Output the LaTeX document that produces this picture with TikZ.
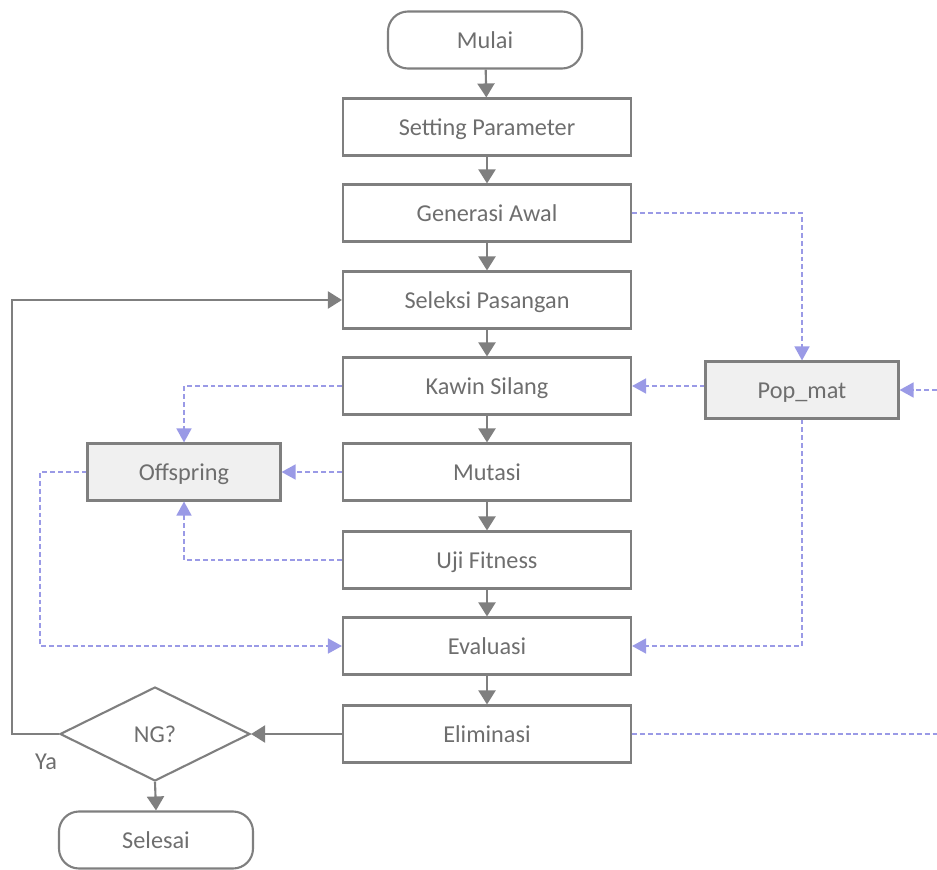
\documentclass[tikz,border=0pt]{standalone}
\usepackage{fontspec}
\setmainfont{Carlito}
\usepackage{tikz}
\usetikzlibrary{arrows.meta, shapes.geometric}

\definecolor{linegray}{HTML}{7F7F7F}
\definecolor{textgray}{HTML}{6E6E6E}
\definecolor{dashblue}{HTML}{9A9AE6}
\definecolor{boxfill}{HTML}{F0F0F0}

\tikzset{
  procbox/.style={draw=linegray, line width=1.2pt, minimum width=57.6mm,
    minimum height=11.4mm, text=textgray, font=\fontsize{13.8}{16}\selectfont,
    text height=2.2ex, text depth=0.2ex},
  sidebox/.style={procbox, fill=boxfill, minimum width=38.6mm},
  termbox/.style={procbox, rounded corners=4mm, minimum width=38.8mm},
  decide/.style={diamond, draw=linegray, line width=1.2pt, aspect=2,
    inner sep=0pt, minimum width=38mm, minimum height=18.8mm,
    text=textgray, font=\fontsize{13.8}{16}\selectfont},
  flow/.style={draw=linegray, line width=1.2pt,
    -{Triangle[length=2.8mm, width=3.4mm]}},
  dataflow/.style={draw=dashblue, line width=0.9pt,
    dash pattern=on 2.8pt off 1.7pt,
    -{Triangle[length=2.8mm, width=3mm]}},
}

\begin{document}
\begin{tikzpicture}[x=0.2mm, y=-0.2mm]
    \useasboundingbox (0,0) rectangle (937,869);

    % main column
    \node[termbox] (mulai) at (485,40) {Mulai};
    \node[procbox] (setting) at (487,127) {Setting Parameter};
    \node[procbox] (generasi) at (487,213) {Generasi Awal};
    \node[procbox] (seleksi) at (487,300) {Seleksi Pasangan};
    \node[procbox] (kawin) at (487,386) {Kawin Silang};
    \node[procbox] (mutasi) at (487,472) {Mutasi};
    \node[procbox] (uji) at (487,560) {Uji Fitness};
    \node[procbox] (evaluasi) at (487,646) {Evaluasi};
    \node[procbox] (eliminasi) at (487,734) {Eliminasi};

    % side boxes
    \node[sidebox] (offspring) at (184,472) {Offspring};
    \node[sidebox] (popmat) at (802,390) {Pop\_mat};
    \node[decide] (ng) at (155,734) {NG?};
    \node[termbox] (selesai) at (156,840) {Selesai};
    \node[text=textgray, font=\fontsize{13.8}{16}\selectfont] (ya) at (46,762) {Ya};

    \coordinate (popin) at (937,390);
    \coordinate (elimout) at (937,734);

    % solid flow
    \draw[flow] (mulai) -- (setting);
    \draw[flow] (setting) -- (generasi);
    \draw[flow] (generasi) -- (seleksi);
    \draw[flow] (seleksi) -- (kawin);
    \draw[flow] (kawin) -- (mutasi);
    \draw[flow] (mutasi) -- (uji);
    \draw[flow] (uji) -- (evaluasi);
    \draw[flow] (evaluasi) -- (eliminasi);
    \draw[flow] (eliminasi.west) -- (ng.east);
    \draw[flow] (ng.west) -- (12,734) |- (seleksi.west);
    \draw[flow] (ng.south) -- (selesai.north);

    % data flow
    \draw[dataflow] (generasi.east) -| (popmat.north);
    \draw[dataflow] (popmat.west |- kawin.east) -- (kawin.east);
    \draw[dataflow] (popin) -- (popmat.east);
    \draw[dataflow] (popmat.south) |- (evaluasi.east);
    \draw[dataflow] (kawin.west) -| (offspring.north);
    \draw[dataflow] (mutasi.west) -- (offspring.east);
    \draw[dataflow] (uji.west) -| (offspring.south);
    \draw[dataflow] (offspring.west) -- (40,472) |- (evaluasi.west);
    \draw[dataflow, -] (eliminasi.east) -- (elimout);
\end{tikzpicture}
\end{document}
